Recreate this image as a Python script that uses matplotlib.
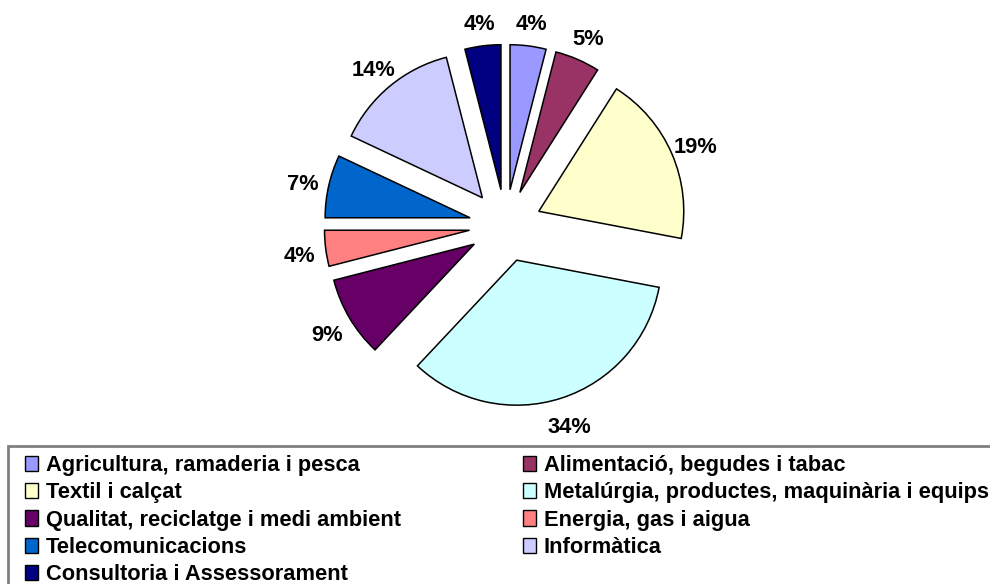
import matplotlib
matplotlib.use("Agg")
import matplotlib.pyplot as plt
from matplotlib.patches import Patch, Rectangle

plt.rcParams['font.family'] = ['Liberation Sans', 'DejaVu Sans']

# dades
sectors = ["Agricultura, ramaderia i pesca", "Alimentació, begudes i tabac",
           "Textil i calçat", "Metalúrgia, productes, maquinària i equips",
           "Qualitat, reciclatge i medi ambient", "Energia, gas i aigua",
           "Telecomunicacions", "Informàtica", "Consultoria i Assessorament"]
percent = [4, 5, 19, 34, 9, 4, 7, 14, 4]
colors = ["#9999FF", "#993366", "#FFFFCC", "#CCFFFF", "#660066",
          "#FF8080", "#0066CC", "#CCCCFF", "#000080"]

W, H = 990, 584
fig = plt.figure(figsize=(W / 100, H / 100), dpi=100)

# pie area: radius 1 = 145 px, centre at (505.5, 225.7) px
r_px = 145
half = 1.6 * r_px
cx, cy = 505.5, 225.7
ax = fig.add_axes([(cx - half) / W, (H - cy - half) / H, 2 * half / W, 2 * half / H])

wedges, texts, autotexts = ax.pie(
    percent, colors=colors, explode=[0.25] * len(percent),
    startangle=90, counterclock=False,
    autopct='%1.0f%%', pctdistance=1.18,
    wedgeprops=dict(edgecolor='black', linewidth=1.1),
    textprops=dict(fontsize=15.75, fontweight='bold', color='black'))
for t in autotexts:
    x, y = t.get_position()
    t.set_position((x, y - 0.03))
ax.set_xlim(-1.6, 1.6)
ax.set_ylim(-1.6, 1.6)
ax.set_aspect('equal')
ax.axis('off')

# legend (row order like the original)
order = [0, 2, 4, 6, 8, 1, 3, 5, 7]
handles = [Patch(facecolor=colors[i], edgecolor='black', linewidth=1) for i in order]
labels = [sectors[i] for i in order]
leg = fig.legend(handles, labels, ncol=2, loc='upper left',
                 bbox_to_anchor=(25 / W, 1 - 455 / H), borderaxespad=0,
                 prop=dict(weight='bold', size=15.75),
                 handlelength=0.6, handletextpad=0.35,
                 labelspacing=0.29, columnspacing=5.58, borderpad=0,
                 frameon=False)
# legend frame, running past the right and bottom edges as in the original
fig.add_artist(Rectangle((8 / W, -0.05), 1.0, 1 - 446 / H + 0.05,
                         transform=fig.transFigure, fill=False,
                         edgecolor='#808080', linewidth=2))

fig.savefig("out.png", dpi=100)
